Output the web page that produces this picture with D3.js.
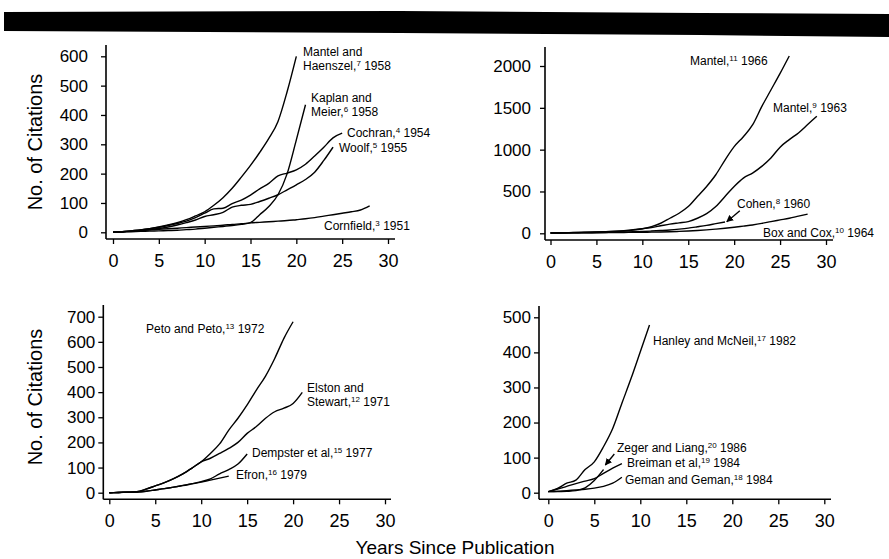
<!DOCTYPE html>
<html><head><meta charset="utf-8">
<script src="https://cdn.jsdelivr.net/npm/d3@7"></script>
<style>body{margin:0;background:#fff}svg{display:block}</style>
</head><body>
<svg id="chart" width="889" height="559"></svg>
<script>
// ---------- data (citations per year since publication, index = year) ----------
const xTicks = [0, 5, 10, 15, 20, 25, 30];

const yTicksA = [0, 100, 200, 300, 400, 500, 600];
const mantelHaenszel1958 = [0,2,5,8,12,18,25,33,43,56,70,92,118,150,188,228,272,320,378,480,600];
const kaplanMeier1958 = [0,1,2,3,4,5,6,7,9,11,14,17,20,23,27,33,60,88,128,200,315,435];
const cochran1954 = [0,2,5,8,12,17,23,30,38,50,65,80,82,98,110,127,148,167,192,202,213,232,260,290,322,338];
const woolf1955 = [0,1,3,6,9,13,18,25,33,42,54,60,68,86,92,95,105,116,128,145,162,180,205,245,290];
const cornfield1951 = [0,2,4,6,8,10,12,14,16,18,20,22,24,27,29,32,34,36,38,40,43,46,50,55,60,65,70,76,90];

const yTicksB = [0, 500, 1000, 1500, 2000];
const mantel1966 = [5,6,8,10,12,15,18,22,28,38,55,80,120,180,240,320,440,560,700,876,1036,1155,1295,1514,1713,1912,2120];
const mantel1963 = [5,6,8,10,13,16,20,25,32,42,55,70,90,110,125,140,180,235,320,440,560,660,720,800,900,1030,1120,1200,1300,1400];
const cohen1960 = [3,4,5,6,7,8,10,12,15,18,22,27,33,40,50,62,78,95,115,135];
const boxCox1964 = [2,3,4,5,6,7,8,9,10,11,12,14,16,19,23,28,34,41,50,60,72,86,100,118,140,160,180,205,230];

const yTicksC = [0, 100, 200, 300, 400, 500, 600, 700];
const petoPeto1972 = [0,1,2,4,14,27,40,56,75,98,123,156,194,249,296,349,408,464,534,614,680];
const elstonStewart1971 = [0,1,2,4,14,27,40,56,75,98,123,137,156,176,200,236,263,296,322,336,355,399];
const dempster1977 = [0,1,2,3,6,11,16,22,29,36,44,55,75,92,114,154];
const efron1979 = [0,1,2,3,6,11,16,22,28,35,42,50,58,66];

const yTicksD = [0, 100, 200, 300, 400, 500];
const hanleyMcNeil1982 = [3,12,27,36,66,88,131,183,255,326,402,478];
const zegerLiang1986 = [3,3,4,6,14,35,66];
const breiman1984 = [3,10,18,26,33,40,55,70,83];
const geman1984 = [3,4,6,8,10,13,18,27,44];

// ---------- layout ----------
const FONT = "'Liberation Sans', Arial, Helvetica, sans-serif";
const panels = [
  { box:{x0:106,x1:395,y0:45,y1:239}, xr:[113,388], yr:[232.3,56.3], yMax:600, yTicks:yTicksA, yTitleY:142, yPad:13,
    series:[mantelHaenszel1958,kaplanMeier1958,cochran1954,woolf1955,cornfield1951],
    labels:[
      {x:303,y:56,t:"Mantel and"},{x:303,y:69.5,t:"Haenszel,^7^ 1958"},
      {x:311,y:102,t:"Kaplan and"},{x:311,y:115.5,t:"Meier,^6^ 1958"},
      {x:347,y:137,t:"Cochran,^4^ 1954"},
      {x:339,y:152,t:"Woolf,^5^ 1955"},
      {x:324,y:230,t:"Cornfield,^3^ 1951"}
    ], arrows:[] },
  { box:{x0:545,x1:833,y0:47,y1:240}, xr:[550.5,826], yr:[233.3,66], yMax:2000, yTicks:yTicksB, yTitleY:null, yPad:9,
    series:[mantel1966,mantel1963,cohen1960,boxCox1964],
    labels:[
      {x:690,y:65,t:"Mantel,^11^ 1966"},
      {x:773,y:112,t:"Mantel,^9^ 1963"},
      {x:737,y:208,t:"Cohen,^8^ 1960"},
      {x:763,y:237,t:"Box and Cox,^10^ 1964"}
    ], arrows:[{yr:19.2,v:139,dx:13,dy:-11}] },
  { box:{x0:103.3,x1:391,y0:305,y1:499.3}, xr:[109.3,385], yr:[492.7,316.7], yMax:700, yTicks:yTicksC, yTitleY:397, yPad:3,
    series:[petoPeto1972,elstonStewart1971,dempster1977,efron1979],
    labels:[
      {x:146,y:333,t:"Peto and Peto,^13^ 1972"},
      {x:307,y:392,t:"Elston and"},{x:307,y:405.5,t:"Stewart,^12^ 1971"},
      {x:252,y:457,t:"Dempster et al,^15^ 1977"},
      {x:236,y:479,t:"Efron,^16^ 1979"}
    ], arrows:[] },
  { box:{x0:539,x1:831,y0:306,y1:499.3}, xr:[548.3,824.3], yr:[492.7,317.3], yMax:500, yTicks:yTicksD, yTitleY:null, yPad:3,
    series:[hanleyMcNeil1982,zegerLiang1986,breiman1984,geman1984],
    labels:[
      {x:653,y:345,t:"Hanley and McNeil,^17^ 1982"},
      {x:617,y:452,t:"Zeger and Liang,^20^ 1986"},
      {x:627,y:467,t:"Breiman et al,^19^ 1984"},
      {x:625,y:484,t:"Geman and Geman,^18^ 1984"}
    ], arrows:[{yr:6.2,v:79,dx:9,dy:-11}] }
];

const svg = d3.select("#chart").style("font-family", FONT);
svg.append("rect").attr("width",889).attr("height",559).attr("fill","#fff");

// top black rule
svg.append("polygon")
  .attr("points","4,12 400,11 700,13 889,14 889,37 700,35 400,33 4,31")
  .attr("fill","#000");

const defs = svg.append("defs");
defs.append("marker").attr("id","ah").attr("viewBox","0 0 10 10")
  .attr("refX",9).attr("refY",5).attr("markerWidth",7).attr("markerHeight",7)
  .attr("orient","auto").attr("markerUnits","userSpaceOnUse")
  .append("path").attr("d","M0,0 L10,5 L0,10 z").attr("fill","#000");

function addLabel(g, l){
  const t = g.append("text").attr("x",l.x).attr("y",l.y)
    .attr("font-size",12).attr("fill","#000");
  const parts = l.t.split("^");
  let shift = 0;
  parts.forEach((p,i)=>{
    const sup = i%2===1;
    const target = sup ? -4 : 0;
    const ts = t.append("tspan").attr("dy", target - shift);
    shift = target;
    if(sup) ts.attr("font-size",8);
    ts.text(p === "" ? "\u200b" : p);
  });
}

panels.forEach(p=>{
  const g = svg.append("g");
  const x = d3.scaleLinear().domain([0,30]).range(p.xr);
  const y = d3.scaleLinear().domain([0,p.yMax]).range(p.yr);

  // axis lines (L-shaped frame)
  g.append("line").attr("x1",p.box.x0).attr("x2",p.box.x0).attr("y1",p.box.y0).attr("y2",p.box.y1)
    .attr("stroke","#000").attr("stroke-width",1.6);
  g.append("line").attr("x1",p.box.x0).attr("x2",p.box.x1).attr("y1",p.box.y1).attr("y2",p.box.y1)
    .attr("stroke","#000").attr("stroke-width",1.6);

  const ax = g.append("g").attr("transform",`translate(0,${p.box.y1})`)
    .call(d3.axisBottom(x).tickValues(xTicks).tickFormat(d3.format("d")).tickSize(5).tickPadding(10).tickSizeOuter(0));
  const ay = g.append("g").attr("transform",`translate(${p.box.x0},0)`)
    .call(d3.axisLeft(y).tickValues(p.yTicks).tickFormat(d3.format("d")).tickSize(5).tickPadding(p.yPad).tickSizeOuter(0));
  [ax,ay].forEach(a=>{
    a.select(".domain").remove();
    a.selectAll("line").attr("stroke","#000").attr("stroke-width",1.3);
    a.selectAll("text").attr("font-family",FONT).attr("fill","#000");
  });
  ax.selectAll("text").attr("font-size",18);
  ay.selectAll("text").attr("font-size",17);

  const line = d3.line().x((d,i)=>x(i)).y(d=>y(d)).curve(d3.curveMonotoneX);
  p.series.forEach(s=>{
    g.append("path").datum(s).attr("d",line).attr("fill","none")
      .attr("stroke","#000").attr("stroke-width",1.4).attr("stroke-linejoin","round");
  });

  p.labels.forEach(l=>addLabel(g,l));
  p.arrows.forEach(a=>{
    const tx = x(a.yr), ty = y(a.v);
    g.append("line").attr("x1",tx+a.dx).attr("y1",ty+a.dy).attr("x2",tx).attr("y2",ty)
      .attr("stroke","#000").attr("stroke-width",1.3).attr("marker-end","url(#ah)");
  });

  if(p.yTitleY !== null){
    svg.append("text").attr("transform",`translate(42,${p.yTitleY}) rotate(-90)`)
      .attr("text-anchor","middle").attr("font-size",20).attr("fill","#000")
      .text("No. of Citations");
  }
});

svg.append("text").attr("x",455).attr("y",554).attr("text-anchor","middle")
  .attr("font-size",19).attr("fill","#000").text("Years Since Publication");
</script>
</body></html>
